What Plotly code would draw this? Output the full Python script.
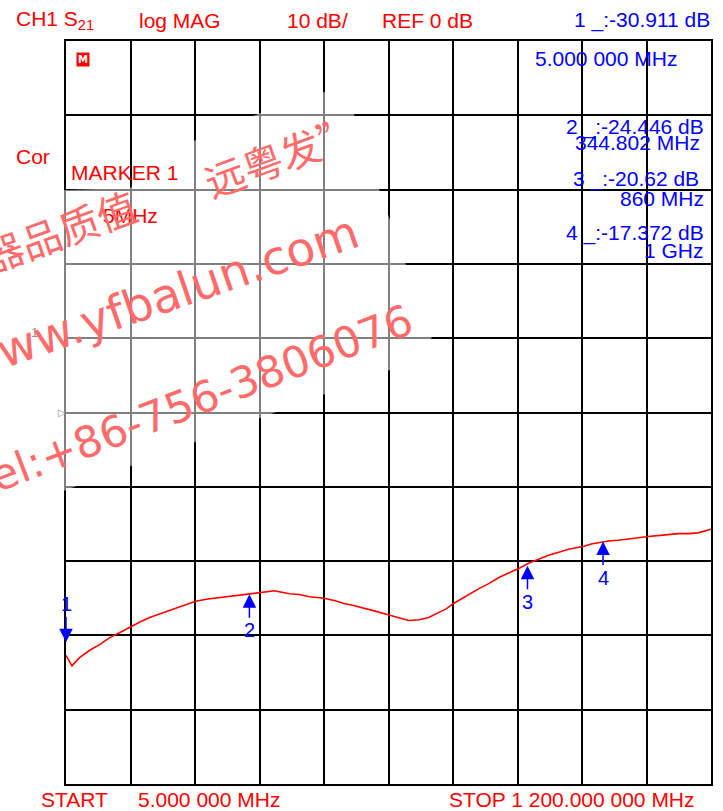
import plotly.graph_objects as go

# ---------------- data ----------------
freq_mhz = [5, 16, 30, 49, 68, 86, 105, 123, 142, 160, 183, 206, 226, 245, 268, 289, 313,
            336, 350, 365, 380, 391, 405, 419, 437, 456, 470, 483, 502, 520, 534, 548, 576,
            605, 622, 640, 659, 677, 696, 710, 723, 746, 770, 789, 807, 831, 844, 862, 880,
            899, 918, 936, 950, 965, 978, 991, 1010, 1028, 1056, 1084, 1111, 1139, 1158, 1176, 1200]
s21_db = [-32.7, -34.1, -33.0, -32.0, -31.2, -30.3, -29.6, -28.9, -28.2, -27.6, -27.0, -26.4,
          -25.9, -25.4, -25.1, -24.9, -24.7, -24.5, -24.4, -24.2, -24.1, -24.0, -24.2, -24.4,
          -24.5, -24.8, -24.9, -25.0, -25.3, -25.7, -25.9, -26.2, -26.7, -27.3, -27.6, -28.0,
          -27.9, -27.6, -26.9, -26.4, -25.7, -24.7, -23.7, -23.0, -22.2, -21.4, -21.0, -20.3,
          -19.8, -19.2, -18.8, -18.4, -18.2, -18.0, -17.7, -17.5, -17.3, -17.2, -16.9, -16.7,
          -16.5, -16.3, -16.3, -16.2, -15.7]

marker_ids = ["1", "2", "3", "4"]
marker_freq = [5.0, 344.802, 860.0, 1000.0]
marker_db = [-30.911, -24.446, -20.62, -17.372]
marker_freq_labels = ["5.000 000 MHz", "344.802 MHz", "860 MHz", "1 GHz"]

start_mhz = 5.0
stop_mhz = 1200.0
ref_db = 0
scale_db = 10
n_div = 10

# ---------------- layout helpers ----------------
W, H = 723, 811
L, R, T, B = 66, 713, 41, 784


def px(x):
    return (x - L) / (R - L)


def py(y):
    return (B - y) / (B - T)


RED = "#ff0000"
BLUE = "#0000ff"
FONT = "Liberation Sans, Arial, sans-serif"

fig = go.Figure()
fig.add_trace(go.Scatter(x=freq_mhz, y=s21_db, mode="lines",
                         line=dict(color=RED, width=1.6), hoverinfo="skip"))

ann = []


def text(s, x, y, color=RED, size=21, anchor="left", family=FONT, **kw):
    ann.append(dict(text=s, x=px(x), y=py(y), xref="paper", yref="paper",
                    xanchor=anchor, yanchor="middle", showarrow=False,
                    font=dict(family=family, size=size, color=color), **kw))


# header
text("CH1 S<sub>21</sub>", 14, 20)
text("log MAG", 137, 20)
text(f"{scale_db} dB/", 286, 20)
text(f"REF {ref_db} dB", 381, 20)
text(f"{marker_ids[0]} _:{marker_db[0]:.3f} dB", 714, 20, BLUE, anchor="right")
text(marker_freq_labels[0], 681, 58, BLUE, anchor="right")
# marker list
text(f"{marker_ids[1]} _:{marker_db[1]:.3f} dB", 708, 127, BLUE, anchor="right")
text(marker_freq_labels[1], 704, 143, BLUE, anchor="right")
text(f"{marker_ids[2]} _:{marker_db[2]:.2f} dB", 703, 179, BLUE, anchor="right")
text(marker_freq_labels[2], 708, 198, BLUE, anchor="right")
text(f"{marker_ids[3]} _:{marker_db[3]:.3f} dB", 708, 233, BLUE, anchor="right")
text(marker_freq_labels[3], 708, 251, BLUE, anchor="right")
# left side
text("Cor", 14, 157)
text("MARKER 1", 69, 173)
text("5MHz", 101, 215)
text("1", 29, 332, "#909090", size=13)
text("▷", 56, 412, "#909090", size=10, family="DejaVu Sans")
# footer
text("START", 39, 799)
text(f"{start_mhz:.3f} 000 MHz", 136, 799)
text(f"STOP 1 {stop_mhz - 1000:.3f} 000 MHz", 699, 799, anchor="right")
# icon
ann.append(dict(text="<b>M</b>", x=px(83), y=py(60), xref="paper", yref="paper",
                xanchor="center", yanchor="middle",
                showarrow=False, font=dict(family="DejaVu Sans", size=10, color="white"),
                bgcolor=RED, borderpad=1))

# markers on trace
for i, (mid, f, d) in enumerate(zip(marker_ids, marker_freq, marker_db)):
    ay = -38 if i == 0 else 36
    ann.append(dict(text=mid, x=f, y=d, xref="x", yref="y", showarrow=True,
                    ax=0, ay=ay, arrowhead=2, arrowsize=1.8, arrowwidth=1.5,
                    arrowcolor=BLUE, font=dict(family=FONT, size=20, color=BLUE)))

# watermark
WM = "#ff6b6b"
text("“仪器品质值", 22, 244, WM, size=40, anchor="center",
     family="Noto Sans CJK SC", textangle=-20)
text("远粤发”", 282, 155, WM, size=40, anchor="center",
     family="Noto Sans CJK SC", textangle=-20)
text("www.yfbalun.com", 160, 297, WM, size=47, anchor="center",
     family="DejaVu Sans", textangle=-19)
text("Tel:+86-756-3806076", 192, 402, WM, size=43, anchor="center",
     family="DejaVu Sans", textangle=-21)

# halo polygon (semi-transparent white over the grid)
halo = [(0, 200), (66, 190), (130, 188), (196, 140), (261, 113), (325, 92), (350, 100),
        (380, 189), (433, 338), (391, 370), (277, 412), (66, 490), (0, 518)]
path = "M " + " L ".join(f"{px(a):.4f},{py(b):.4f}" for a, b in halo) + " Z"

fig.update_layout(
    width=W, height=H,
    margin=dict(l=L, r=W - R, t=T, b=H - B),
    paper_bgcolor="white", plot_bgcolor="white",
    showlegend=False,
    annotations=ann,
    shapes=[dict(type="path", path=path, xref="paper", yref="paper",
                 fillcolor="rgba(255,255,255,0.5)", line=dict(width=0), layer="above")],
    xaxis=dict(range=[start_mhz, stop_mhz], tick0=start_mhz,
               dtick=(stop_mhz - start_mhz) / n_div, showticklabels=False, ticks="",
               showgrid=True, gridcolor="black", gridwidth=2, zeroline=False,
               showline=True, linecolor="black", linewidth=2, mirror=True),
    yaxis=dict(range=[ref_db - scale_db * n_div / 2, ref_db + scale_db * n_div / 2],
               tick0=0, dtick=scale_db, showticklabels=False, ticks="",
               showgrid=True, gridcolor="black", gridwidth=2, zeroline=False,
               showline=True, linecolor="black", linewidth=2, mirror=True),
)

fig.write_html("out.html", config={"displayModeBar": False},
               post_script="document.body.style.margin='0';")
